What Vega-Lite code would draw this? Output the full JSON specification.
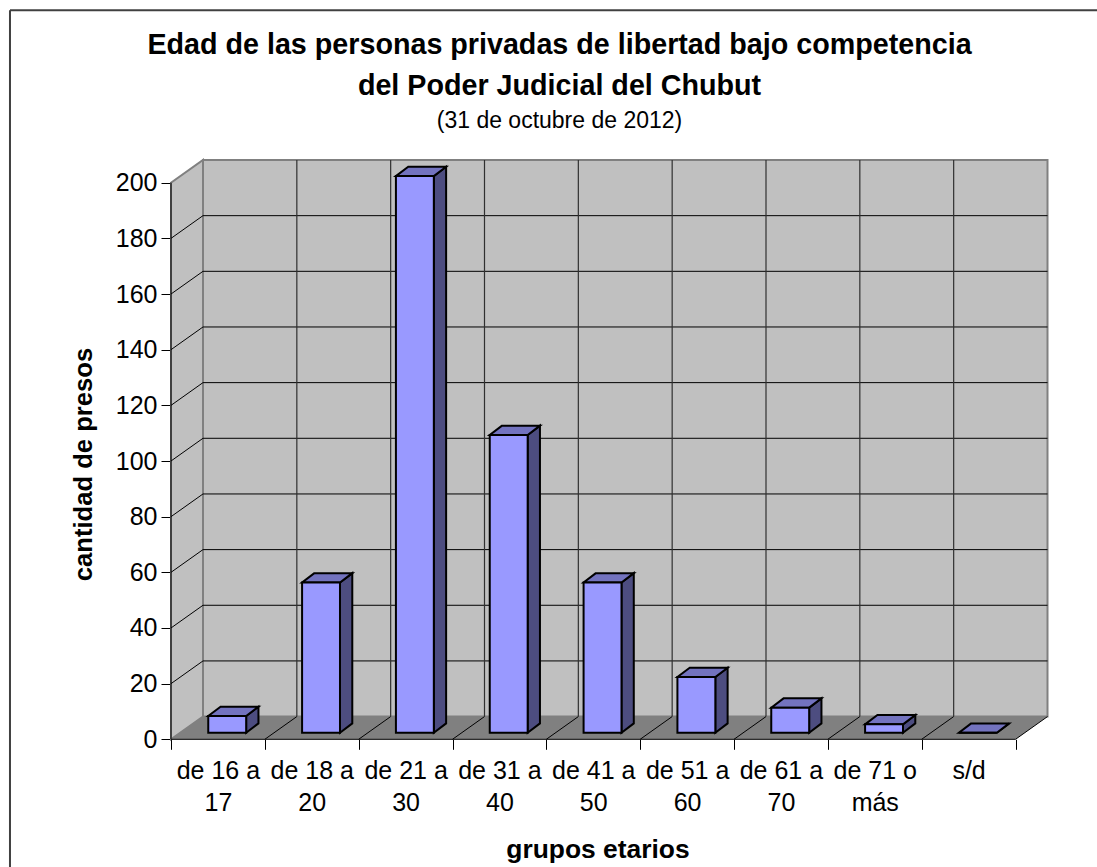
{
"$schema":"https://vega.github.io/schema/vega-lite/v6.json",
"width":1097,"height":867,"padding":0,"autosize":{"type":"none"},"background":"white",
"config":{"view":{"stroke":null},"font":"Liberation Sans"},
"title":{"text":["Edad de las personas privadas de libertad bajo competencia","del Poder Judicial del Chubut"],"subtitle":"(31 de octubre de 2012)","anchor":"middle","frame":"group","offset":-133,"dx":11,"font":"Liberation Sans","fontSize":28.7,"fontWeight":"bold","lineHeight":41,"color":"black","subtitleFont":"Liberation Sans","subtitleFontSize":23,"subtitleColor":"black","subtitlePadding":9},
"datasets":{
"presos":[
{"i":0,"grupo":"de 16 a 17","presos":6},
{"i":1,"grupo":"de 18 a 20","presos":54},
{"i":2,"grupo":"de 21 a 30","presos":200},
{"i":3,"grupo":"de 31 a 40","presos":107},
{"i":4,"grupo":"de 41 a 50","presos":54},
{"i":5,"grupo":"de 51 a 60","presos":20},
{"i":6,"grupo":"de 61 a 70","presos":9},
{"i":7,"grupo":"de 71 o más","presos":3},
{"i":8,"grupo":"s/d","presos":0}],
"marcasY":[{"v":0},{"v":20},{"v":40},{"v":60},{"v":80},{"v":100},{"v":120},{"v":140},{"v":160},{"v":180},{"v":200}],
"marcasX":[{"c":1},{"c":2},{"c":3},{"c":4},{"c":5},{"c":6},{"c":7},{"c":8},{"c":9}]
},
"encoding":{
"x":{"field":"x","type":"quantitative","scale":{"domain":[0,9.341],"range":[171,1047.5],"nice":false,"zero":false},
"axis":{"title":"grupos etarios","titleFont":"Liberation Sans","titleFontSize":26.4,"titleFontWeight":"bold","titleColor":"black","titleX":597.5,"titleY":97,"offset":-127.7,"grid":false,"domain":false,"values":[0,0.5,1,1.5,2,2.5,3,3.5,4,4.5,5,5.5,6,6.5,7,7.5,8,8.5,9],
"tickSize":10,"tickColor":{"condition":{"test":"datum.value % 1 != 0","value":"transparent"},"value":"black"},
"labelExpr":"datum.value % 1 == 0 ? '' : split(['de 16 a|17','de 18 a|20','de 21 a|30','de 31 a|40','de 41 a|50','de 51 a|60','de 61 a|70','de 71 o|más','s/d'][floor(datum.value)],'|')",
"labelFont":"Liberation Sans","labelFontSize":25,"labelColor":"black","labelLineHeight":32,"labelOverlap":false,"labelBound":false,"labelFlush":false,"labelPadding":9}},
"y":{"field":"y","type":"quantitative","scale":{"domain":[0,208.16],"range":[739.3,160],"nice":false,"zero":false},
"axis":{"title":"cantidad de presos","titleFont":"Liberation Sans","titleFontSize":25.6,"titleFontWeight":"bold","titleColor":"black","titleX":-75,"titleY":464,"offset":-171,"grid":false,"domain":false,"values":[0,20,40,60,80,100,120,140,160,180,200],"tickSize":10,"tickColor":"black","labelFont":"Liberation Sans","labelFontSize":25,"labelColor":"black","labelPadding":4}}
},
"layer":[
{"data":{"values":[{"x":0,"y":0,"y2":200},{"x":0.341,"y":8.16,"y2":208.16}]},
 "mark":{"type":"area","fill":"#c0c0c0","stroke":"#808080","strokeWidth":2},
 "encoding":{"y2":{"field":"y2"}}},
{"data":{"values":[{"x":0.341,"x2":9.341,"y":8.16,"y2":208.16}]},
 "mark":{"type":"rect","fill":"#c0c0c0","stroke":"#808080","strokeWidth":2},
 "encoding":{"x2":{"field":"x2"},"y2":{"field":"y2"}}},
{"data":{"values":[{"x":0,"x2":9,"y":0},{"x":0.341,"x2":9.341,"y":8.16}]},
 "mark":{"type":"area","orient":"horizontal","fill":"#808080"},
 "encoding":{"x2":{"field":"x2"}}},
{"data":{"name":"marcasY"},
 "transform":[{"filter":"datum.v > 0 && datum.v < 200"},{"calculate":"datum.v + 8.16","as":"y"},{"calculate":"0.341","as":"x"}],
 "mark":{"type":"rule","color":"black","strokeWidth":1},
 "encoding":{"x2":{"datum":9.341},"y2":{"field":"y"}}},
{"data":{"name":"marcasY"},
 "transform":[{"filter":"datum.v > 0 && datum.v < 200"},{"calculate":"datum.v","as":"y"},{"calculate":"datum.v + 8.16","as":"yb"},{"calculate":"0","as":"x"}],
 "mark":{"type":"rule","color":"black","strokeWidth":1},
 "encoding":{"x2":{"datum":0.341},"y2":{"field":"yb"}}},
{"data":{"name":"marcasX"},
 "transform":[{"filter":"datum.c < 9"},{"calculate":"datum.c + 0.341","as":"x"},{"calculate":"8.16","as":"y"}],
 "mark":{"type":"rule","color":"#303030","strokeWidth":1.2},
 "encoding":{"x2":{"field":"x"},"y2":{"datum":208.16}}},
{"data":{"name":"marcasX"},
 "transform":[{"calculate":"datum.c","as":"x"},{"calculate":"datum.c + 0.341","as":"xb"},{"calculate":"0","as":"y"}],
 "mark":{"type":"rule","color":"black","strokeWidth":1},
 "encoding":{"x2":{"field":"xb"},"y2":{"datum":8.16}}},
{"data":{"values":[{"x":0,"x2":0,"y":0,"y2":200},{"x":0,"x2":9,"y":0,"y2":0}]},
 "mark":{"type":"rule","color":"black","strokeWidth":1},
 "encoding":{"x2":{"field":"x2"},"y2":{"field":"y2"}}},
{"data":{"name":"presos"},
 "transform":[{"calculate":"[0,1]","as":"p"},{"flatten":["p"]},{"calculate":"datum.i + 0.801 + datum.p * 0.131","as":"x"},{"calculate":"2.37 + datum.p * 3.34","as":"y"},{"calculate":"datum.presos + datum.y","as":"yt"}],
 "mark":{"type":"area","fill":"#4d4d80","stroke":"black","strokeWidth":2},
 "encoding":{"y2":{"field":"yt"},"detail":{"field":"grupo"}}},
{"data":{"name":"presos"},
 "transform":[{"calculate":"[0,1]","as":"p"},{"flatten":["p"]},{"calculate":"datum.i + 0.397 + datum.p * 0.131","as":"x"},{"calculate":"datum.i + 0.801 + datum.p * 0.131","as":"xd"},{"calculate":"datum.presos + 2.37 + datum.p * 3.34","as":"y"}],
 "mark":{"type":"area","orient":"horizontal","fill":"#7373bf","stroke":"black","strokeWidth":2},
 "encoding":{"x2":{"field":"xd"},"detail":{"field":"grupo"}}},
{"data":{"name":"presos"},
 "transform":[{"calculate":"datum.i + 0.397","as":"x"},{"calculate":"datum.i + 0.801","as":"xd"},{"calculate":"2.37","as":"y"},{"calculate":"datum.presos + 2.37","as":"yt"}],
 "mark":{"type":"rect","fill":"#9999ff","stroke":"black","strokeWidth":2},
 "encoding":{"x2":{"field":"xd"},"y2":{"field":"yt"}}},
{"data":{"values":[{"x":-1.716,"x2":-1.716,"y":262,"y2":-46},{"x":-1.716,"x2":10.3,"y":262,"y2":262}]},
 "mark":{"type":"rule","color":"#404040","strokeWidth":2},
 "encoding":{"x2":{"field":"x2"},"y2":{"field":"y2"}}}
]
}
